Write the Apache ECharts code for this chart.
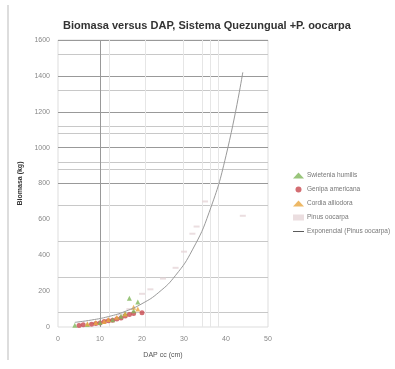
<!DOCTYPE html>
<html><head><meta charset="utf-8">
<script src="https://cdn.jsdelivr.net/npm/echarts@6/dist/echarts.min.js"></script>
<style>html,body{margin:0;padding:0;background:#fff}#c{width:395px;height:369px}</style>
</head><body><div id="c"></div>
<script>
var titleText = 'Biomasa versus DAP, Sistema Quezungual +P. oocarpa';
var seriesNames = ['Swietenia humilis', 'Genipa americana', 'Cordia alliodora', 'Pinus oocarpa', 'Exponencial (Pinus oocarpa)'];
var swietenia = [[4,10],[7,14],[10,25],[13,40],[15,60],[16,75],[17,160],[18,90],[19,140]];
var genipa = [[5,8],[6,12],[8,15],[9,20],[10,22],[11,30],[12,35],[13,38],[14,45],[15,50],[16,62],[17,70],[18,75],[20,80]];
var cordia = [[7,18],[9,25],[11,30],[12,42],[14,55],[16,72],[18,110],[19,100]];
var pinus = [[8,20],[12,40],[15,70],[17,100],[20,185],[22,210],[25,270],[28,330],[30,420],[32,520],[33,560],[35,700],[44,620]];
var trendX = [4,8,12,16,20,24,28,32,36,40,44];
var trendY = [26,39,58,87,130,193,288,430,640,955,1420];
var gridDark = [1600,1400,1200,1000,800];
var gridLight = [1520,1320,1120,920,1080,880,680,480,280,80];
var vLines = [12.3,20.7,29.8,34.4,36.3,38.2];
var xTicks = [0,10,20,30,40,50];
var yTicks = [0,200,400,600,800,1000,1200,1400,1600];

var trend = trendX.map(function(x,i){return [x, trendY[i]];});
var chart = echarts.init(document.getElementById('c'));
var lblFont = 'Liberation Sans';
var markData = [];
gridDark.forEach(function(v){markData.push({yAxis:v, lineStyle:{color:'#999',width:1,type:'solid'}});});
gridLight.forEach(function(v){markData.push({yAxis:v, lineStyle:{color:'#c8c8c8',width:1,type:'solid'}});});
markData.push({xAxis:10, lineStyle:{color:'#999',width:1,type:'solid'}});
vLines.forEach(function(v){markData.push({xAxis:v, lineStyle:{color:'#e6e6e6',width:1,type:'solid'}});});

chart.setOption({
  animation:false,
  backgroundColor:'#fff',
  title:{text:titleText,left:202,top:15,textAlign:'center',
    textStyle:{fontFamily:lblFont,fontSize:11,fontWeight:'bold',color:'#333'}},
  graphic:[{type:'line',shape:{x1:8,y1:5,x2:8,y2:360},style:{stroke:'#bbb',lineWidth:1}}],
  grid:{left:58,right:127,top:40,bottom:42,show:true,borderColor:'#ddd',borderWidth:1},
  legend:{orient:'vertical',left:288,top:167,itemGap:7,itemWidth:11,itemHeight:6,
    textStyle:{fontFamily:lblFont,fontSize:6.5,color:'#777',padding:[0,0,0,-2]},
    data:[
      {name:seriesNames[0]},{name:seriesNames[1]},{name:seriesNames[2]},{name:seriesNames[3]},
      {name:seriesNames[4],icon:'path://M0,0L40,0L40,2.5L0,2.5Z',itemStyle:{color:'#111'}}
    ]},
  xAxis:{type:'value',min:0,max:50,interval:10,
    name:'DAP cc (cm)',nameLocation:'middle',nameGap:25,
    nameTextStyle:{fontFamily:lblFont,fontSize:7,color:'#555'},
    axisLine:{show:false},axisTick:{show:false},splitLine:{show:false},
    axisLabel:{fontFamily:lblFont,fontSize:7,color:'#888',margin:9}},
  yAxis:{type:'value',min:0,max:1600,interval:200,
    name:'Biomasa (kg)',nameLocation:'middle',nameGap:34,nameRotate:90,
    nameTextStyle:{fontFamily:lblFont,fontSize:7,fontWeight:'bold',color:'#333'},
    axisLine:{show:false},axisTick:{show:false},splitLine:{show:false},
    axisLabel:{fontFamily:lblFont,fontSize:7,color:'#888',margin:8,formatter:function(v){return String(v);}}},
  series:[
    {name:seriesNames[0],type:'scatter',data:swietenia,symbol:'triangle',symbolSize:5,
      itemStyle:{color:'#7fb65a'},z:4,
      markLine:{silent:true,symbol:'none',label:{show:false},data:markData,z:1}},
    {name:seriesNames[1],type:'scatter',data:genipa,symbol:'circle',symbolSize:5,itemStyle:{color:'#c8484f'},z:3},
    {name:seriesNames[2],type:'scatter',data:cordia,symbol:'triangle',symbolSize:5,itemStyle:{color:'#e8a640'},z:5},
    {name:seriesNames[3],type:'scatter',data:pinus,symbol:'rect',symbolSize:[6,2],itemStyle:{color:'#e6d6d8'},z:2},
    {name:seriesNames[4],type:'line',data:trend,smooth:true,symbol:'none',showSymbol:false,
      lineStyle:{color:'#9a9a9a',width:1},itemStyle:{color:'#111'},z:6}
  ]
});
</script></body></html>
